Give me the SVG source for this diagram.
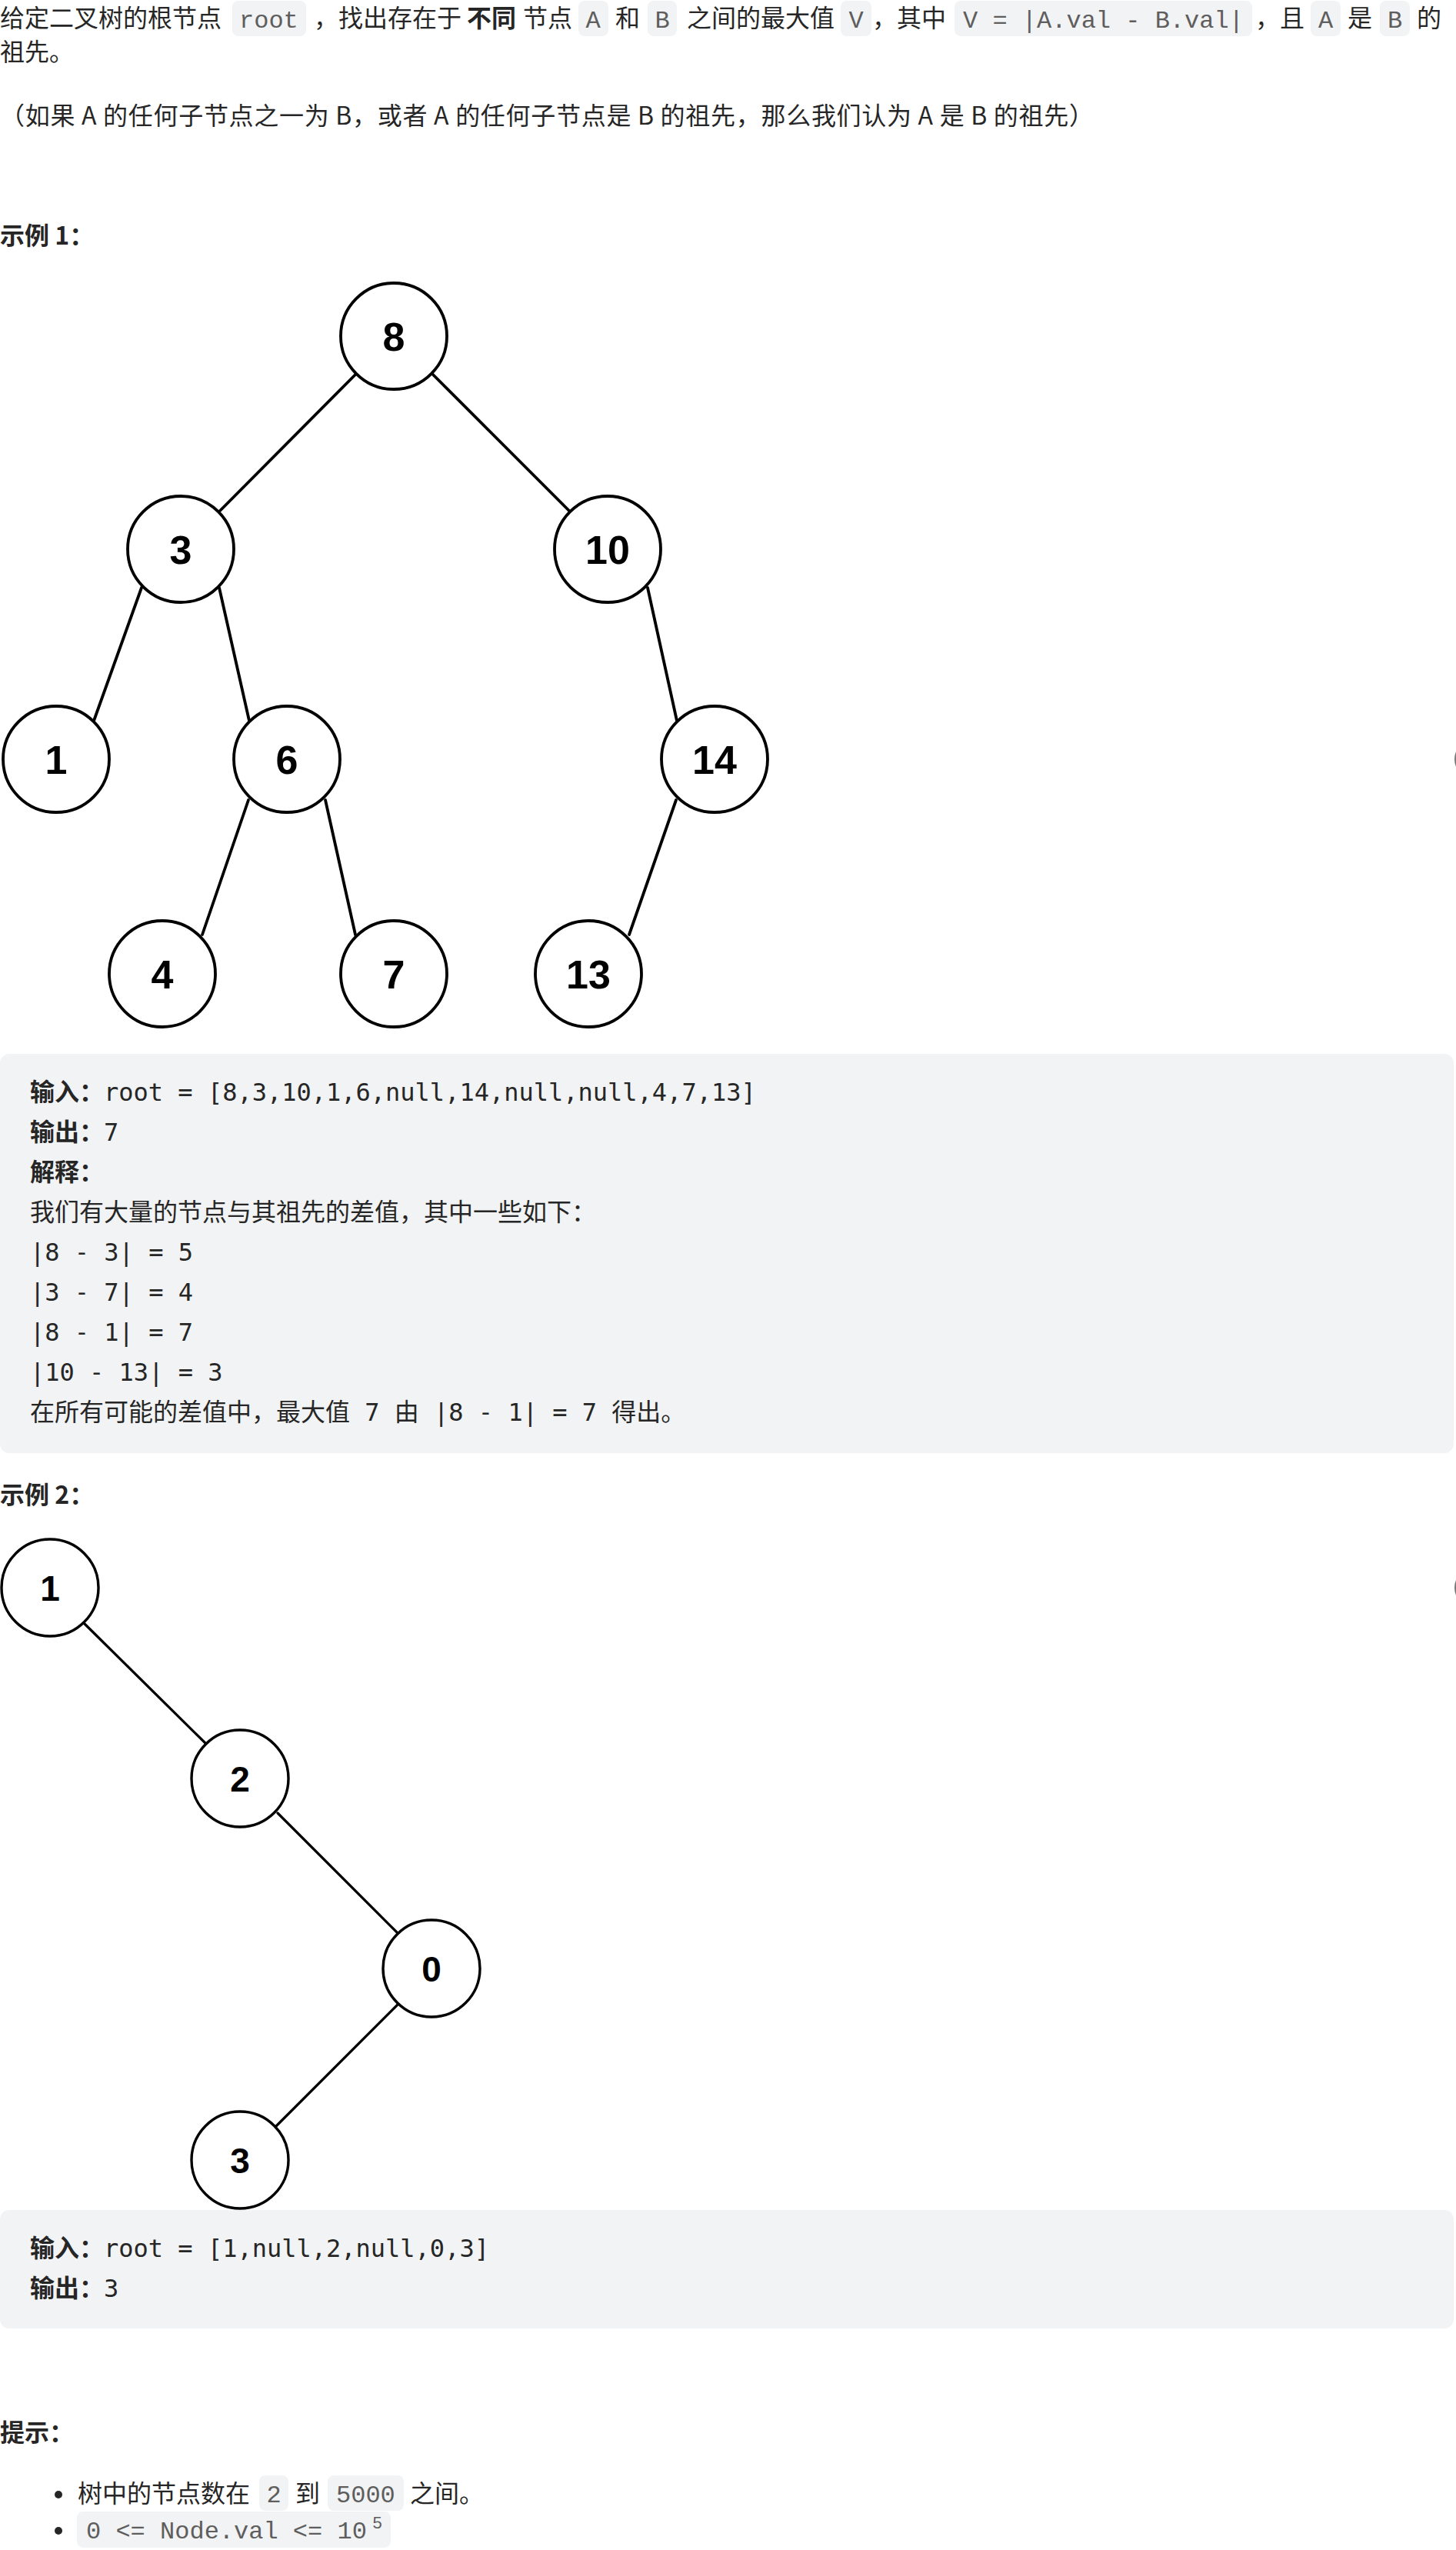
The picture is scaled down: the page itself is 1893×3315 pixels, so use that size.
<svg xmlns="http://www.w3.org/2000/svg" width="1893" height="3315" viewBox="0 0 1893 3315">
<style>
.t{font-family:"Noto Sans CJK SC","Noto Sans",sans-serif;font-size:32px;fill:#262626;white-space:pre}
.b{font-weight:700}
.ic{font-family:"Liberation Mono",monospace;font-size:32px;fill:#5e5e5e;white-space:pre}
.cb{fill:#f2f3f4}
.icbg{fill:#f2f3f4}
.pre{font-family:"DejaVu Sans Mono","Noto Sans CJK SC",monospace;font-size:32px;fill:#262626;white-space:pre}
.pre .b{font-family:"Noto Sans CJK SC",sans-serif;font-weight:700}
.n1 circle{fill:#fff;stroke:#000;stroke-width:3.8}
.n1 text{font-family:"Liberation Sans",Arial,sans-serif;font-weight:700;font-size:52px;text-anchor:middle;fill:#000}
.n2 circle{fill:#fff;stroke:#000;stroke-width:3.4}
.n2 text{font-family:"Liberation Sans",Arial,sans-serif;font-weight:700;font-size:46px;text-anchor:middle;fill:#000}
.e1 line{stroke:#000;stroke-width:3.8;stroke-linecap:round}
.e2 line{stroke:#000;stroke-width:3.2;stroke-linecap:round}
</style>
<rect width="1893" height="3315" fill="#fff"/>

<!-- paragraph line 1 -->
<g id="para1">
<rect class="icbg" x="302" y="1" width="96" height="46" rx="8"/>
<rect class="icbg" x="752" y="1" width="39" height="46" rx="8"/>
<rect class="icbg" x="842" y="1" width="38" height="46" rx="8"/>
<rect class="icbg" x="1093" y="1" width="40" height="46" rx="8"/>
<rect class="icbg" x="1241" y="1" width="387" height="46" rx="8"/>
<rect class="icbg" x="1704" y="1" width="39" height="46" rx="8"/>
<rect class="icbg" x="1794" y="1" width="39" height="46" rx="8"/>
<text class="t" x="0" y="35">给定二叉树的根节点</text>
<text class="ic" x="311" y="36">root</text>
<text class="t" x="408" y="35">，找出存在于</text>
<text class="t b" x="607" y="35">不同</text>
<text class="t" x="680" y="35">节点</text>
<text class="ic" x="761.5" y="36">A</text>
<text class="t" x="800" y="35">和</text>
<text class="ic" x="851.5" y="36">B</text>
<text class="t" x="893" y="35">之间的最大值</text>
<text class="ic" x="1103.5" y="36">V</text>
<text class="t" x="1134" y="35">，其中</text>
<text class="ic" x="1252" y="36">V = |A.val - B.val|</text>
<text class="t" x="1632" y="35">，且</text>
<text class="ic" x="1714" y="36">A</text>
<text class="t" x="1752" y="35">是</text>
<text class="ic" x="1804" y="36">B</text>
<text class="t" x="1842" y="35">的</text>
<text class="t" x="0" y="79">祖先。</text>
</g>

<g id="para2">
<text class="t" x="0" y="162" textLength="1422" lengthAdjust="spacing">（如果 A 的任何子节点之一为 B，或者 A 的任何子节点是 B 的祖先，那么我们认为 A 是 B 的祖先）</text>
</g>

<text id="ex1-title" class="t b" x="0" y="318">示例 1：</text>

<!-- tree 1 connectors -->
<g id="tree1-edges" class="e1">
<line x1="462" y1="487" x2="286" y2="664"/>
<line x1="563" y1="487" x2="740" y2="664"/>
<line x1="184" y1="764" x2="122" y2="937"/>
<line x1="285" y1="764" x2="324" y2="937"/>
<line x1="842" y1="764" x2="880" y2="937"/>
<line x1="323" y1="1040" x2="263" y2="1215"/>
<line x1="423" y1="1040" x2="462" y2="1215"/>
<line x1="879" y1="1040" x2="818" y2="1215"/>
</g>
<g id="t1-n8" class="n1"><circle cx="512" cy="437" r="69"/><text x="512" y="456">8</text></g>
<g id="t1-n3" class="n1"><circle cx="235" cy="714" r="69"/><text x="235" y="733">3</text></g>
<g id="t1-n10" class="n1"><circle cx="790" cy="714" r="69"/><text x="790" y="733">10</text></g>
<g id="t1-n1" class="n1"><circle cx="73" cy="987" r="69"/><text x="73" y="1006">1</text></g>
<g id="t1-n6" class="n1"><circle cx="373" cy="987" r="69"/><text x="373" y="1006">6</text></g>
<g id="t1-n14" class="n1"><circle cx="929" cy="987" r="69"/><text x="929" y="1006">14</text></g>
<g id="t1-n4" class="n1"><circle cx="211" cy="1266" r="69"/><text x="211" y="1285">4</text></g>
<g id="t1-n7" class="n1"><circle cx="512" cy="1266" r="69"/><text x="512" y="1285">7</text></g>
<g id="t1-n13" class="n1"><circle cx="765" cy="1266" r="69"/><text x="765" y="1285">13</text></g>

<!-- right edge marks -->
<ellipse cx="1898" cy="987" rx="6" ry="13" fill="none" stroke="#777" stroke-width="2"/>
<ellipse cx="1898" cy="2064" rx="6" ry="13" fill="none" stroke="#777" stroke-width="2"/>

<!-- example 1 code block -->
<g id="ex1-block">
<rect class="cb" x="0" y="1370" width="1890" height="519" rx="12"/>
<text class="pre" x="39" y="1431"><tspan class="b">输入：</tspan>root = [8,3,10,1,6,null,14,null,null,4,7,13]</text>
<text class="pre" x="39" y="1483"><tspan class="b">输出：</tspan>7</text>
<text class="pre" x="39" y="1535"><tspan class="b">解释：</tspan></text>
<text class="pre" x="39" y="1587">我们有大量的节点与其祖先的差值，其中一些如下：</text>
<text class="pre" x="39" y="1639">|8 - 3| = 5</text>
<text class="pre" x="39" y="1691">|3 - 7| = 4</text>
<text class="pre" x="39" y="1743">|8 - 1| = 7</text>
<text class="pre" x="39" y="1795">|10 - 13| = 3</text>
<text class="pre" x="39" y="1847">在所有可能的差值中，最大值 7 由 |8 - 1| = 7 得出。</text>
</g>

<text id="ex2-title" class="t b" x="0" y="1955">示例 2：</text>

<g id="tree2-edges" class="e2">
<line x1="109" y1="2110" x2="269" y2="2268"/>
<line x1="361" y1="2357" x2="518" y2="2514"/>
<line x1="517" y1="2606" x2="359" y2="2764"/>
</g>
<g id="t2-n1" class="n2"><circle cx="65" cy="2064" r="63"/><text x="65" y="2081">1</text></g>
<g id="t2-n2" class="n2"><circle cx="312" cy="2312" r="63"/><text x="312" y="2329">2</text></g>
<g id="t2-n0" class="n2"><circle cx="561" cy="2559" r="63"/><text x="561" y="2576">0</text></g>
<g id="t2-n3" class="n2"><circle cx="312" cy="2808" r="63"/><text x="312" y="2825">3</text></g>

<g id="ex2-block">
<rect class="cb" x="0" y="2873" width="1890" height="154" rx="12"/>
<text class="pre" x="39" y="2934"><tspan class="b">输入：</tspan>root = [1,null,2,null,0,3]</text>
<text class="pre" x="39" y="2986"><tspan class="b">输出：</tspan>3</text>
</g>

<text id="hint-title" class="t b" x="0" y="3174">提示：</text>

<g id="hints">
<circle cx="76" cy="3243" r="5" fill="#262626"/>
<circle cx="76" cy="3290" r="5" fill="#262626"/>
<text class="t" x="101" y="3253">树中的节点数在</text>
<rect class="icbg" x="337" y="3218" width="38" height="46" rx="8"/>
<text class="ic" x="346.5" y="3253">2</text>
<text class="t" x="384" y="3253">到</text>
<rect class="icbg" x="426" y="3218" width="99" height="46" rx="8"/>
<text class="ic" x="437" y="3253">5000</text>
<text class="t" x="533" y="3253">之间。</text>
<rect class="icbg" x="100" y="3265" width="408" height="47" rx="8"/>
<text class="ic" x="112" y="3300">0 &lt;= Node.val &lt;= 10</text>
<text class="ic" x="484" y="3287" style="font-size:22px">5</text>
</g>
</svg>
